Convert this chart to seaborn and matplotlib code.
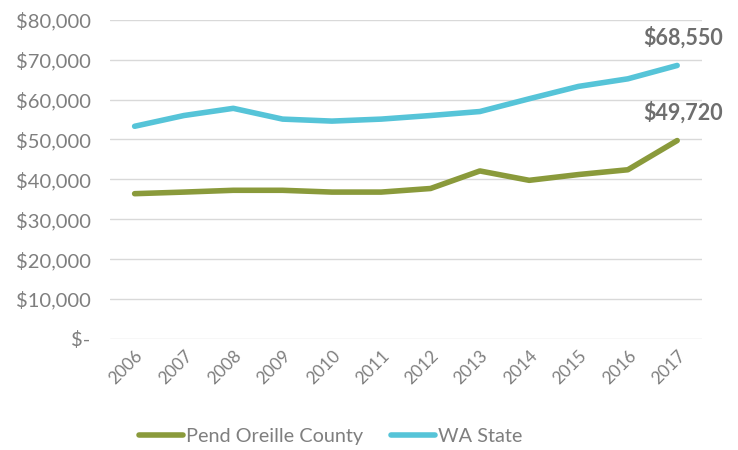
import pandas as pd
import numpy as np
import matplotlib.pyplot as plt
import seaborn as sns

years = [2006, 2007, 2008, 2009, 2010, 2011, 2012, 2013, 2014, 2015, 2016, 2017]
pend_oreille = [36400, 36800, 37250, 37250, 36800, 36800, 37700, 42100, 39750, 41200, 42400, 49720]
wa_state = [53300, 56000, 57800, 55100, 54600, 55100, 56000, 57000, 60200, 63300, 65200, 68550]
series_names = ["Pend Oreille County", "WA State"]
y_ticks = [0, 10000, 20000, 30000, 40000, 50000, 60000, 70000, 80000]

df = pd.DataFrame({
    "Year": years * 2,
    "Income": pend_oreille + wa_state,
    "Area": [series_names[0]] * len(years) + [series_names[1]] * len(years),
})

sns.set_style("white")
plt.rcParams['font.family'] = ['Lato', 'DejaVu Sans']
gray = "#7f7f7f"
palette = {series_names[0]: "#8a9a3b", series_names[1]: "#56c4d8"}

fig = plt.figure(figsize=(7.38, 4.5), dpi=100)
ax = fig.add_axes([0.149, 0.247, 0.802, 0.709])
sns.lineplot(data=df, x="Year", y="Income", hue="Area", palette=palette,
             linewidth=4, ax=ax, solid_capstyle="round")

ax.set_xlim(years[0] - 0.5, years[-1] + 0.5)
ax.set_ylim(0, 80000)
ax.set_yticks(y_ticks)
ax.set_yticklabels(["$-"] + [f"${v:,}" for v in y_ticks[1:]])
ax.set_xticks(years)
ax.set_xticklabels([str(y) for y in years], rotation=45, ha="right",
                   rotation_mode="anchor")
ax.tick_params(axis="y", length=0, labelsize=14.5, labelcolor=gray, pad=14)
ax.tick_params(axis="x", length=0, labelsize=12.5, labelcolor=gray, pad=6)
ax.yaxis.grid(True, color="#d9d9d9", linewidth=1)
ax.set_axisbelow(True)
for s in ax.spines.values():
    s.set_visible(False)
ax.set_xlabel("")
ax.set_ylabel("")

# end labels
for vals in (pend_oreille, wa_state):
    ax.annotate(f"${vals[-1]:,}", (years[-1], vals[-1]), xytext=(4, 12),
                textcoords="offset points", ha="center", va="bottom",
                fontsize=15.5, fontweight="bold", color="#6e6e6e")

handles, labels = ax.get_legend_handles_labels()
ax.legend(handles, labels, loc="center", bbox_to_anchor=(0.373, -0.307),
          ncol=2, frameon=False, fontsize=14.3, handlelength=2.2,
          handletextpad=0.15, columnspacing=1.4, labelcolor=gray)

fig.savefig("out.png", dpi=100)
